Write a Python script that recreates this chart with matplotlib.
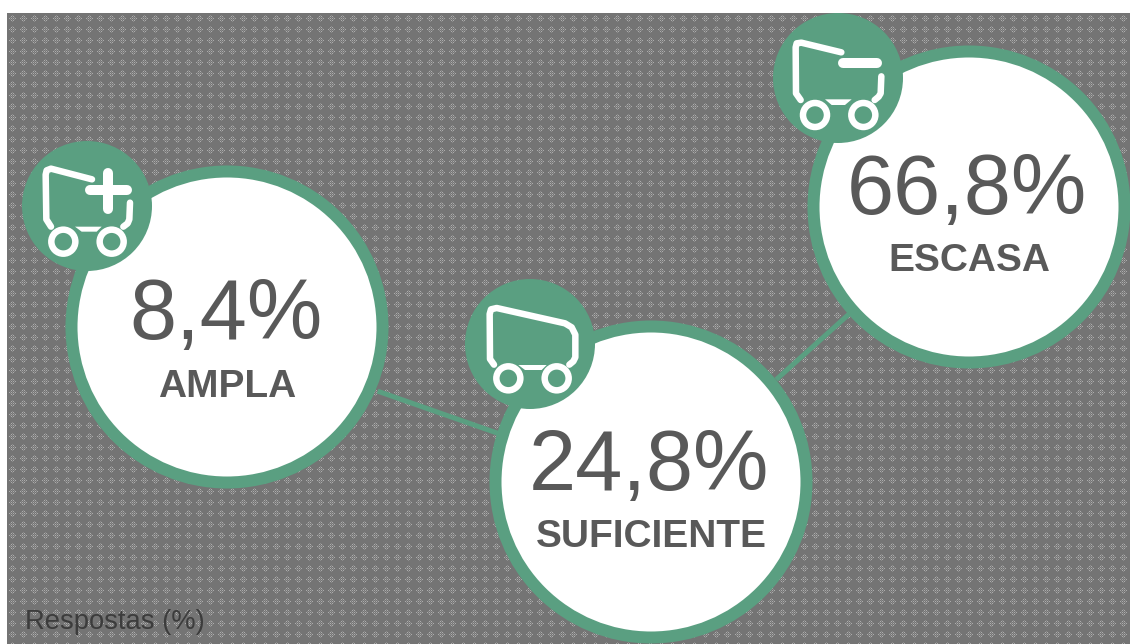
import numpy as np
import matplotlib
matplotlib.use('Agg')
import matplotlib.pyplot as plt
from matplotlib.patches import Circle, Polygon

# Data
categories = ['AMPLA', 'SUFICIENTE', 'ESCASA']
shares = [8.4, 24.8, 66.8]
footnote = 'Respostas (%)'

# Layout, in picture pixels
big_x = [227, 651, 969]
big_y = [327, 482, 207]
badge_x = [87, 530, 838]
badge_y = [206, 344, 78]
pct_x = [226, 649, 967]
pct_y = [317, 468, 192]
name_x = [227, 651, 969]
name_y = [387, 537, 261]

GREEN = '#5A9F81'
TEXT = '#595959'

plt.rcParams['font.family'] = ['Liberation Sans', 'DejaVu Sans']


def px(v):
    # pixels to points at dpi 100
    return v * 0.72


fig = plt.figure(figsize=(11.3, 6.44), dpi=100, facecolor='white')
ax = fig.add_axes([0, 0, 1, 1])
ax.axis('off')

# Dithered grey background
tile = np.full((11, 11), 116)
for r, c in [(3, 4), (3, 6), (5, 2), (5, 4), (5, 6), (5, 8), (7, 4), (7, 6)]:
    tile[r, c] = 172
for r, c in [(4, 3), (4, 5), (4, 7), (6, 3), (6, 5), (6, 7), (2, 5), (8, 5)]:
    tile[r, c] = 140
bg = np.tile(tile, (58, 103))[:631, :1123]
ax.imshow(bg, cmap='gray', vmin=0, vmax=255, extent=(7, 1130, 644, 13),
          interpolation='nearest', aspect='auto', zorder=0)
ax.set_xlim(0, 1130)
ax.set_ylim(644, 0)

# Connectors
ax.plot([380, 497], [392, 433], color=GREEN, lw=px(5), zorder=1)
ax.plot([778, 848], [378, 315], color=GREEN, lw=px(5), zorder=1)

# Big circles and badges
for x, y in zip(big_x, big_y):
    ax.add_patch(Circle((x, y), 155.5, fc='white', ec=GREEN, lw=px(12), zorder=2))
for x, y in zip(badge_x, badge_y):
    ax.add_patch(Circle((x, y), 65, fc=GREEN, ec='none', zorder=3))


def cart_line(cx, cy, zx, zy, lw=6.5):
    # points read from the 3x zoom, relative to badge centre
    xs = [cx + v / 3 for v in zx]
    ys = [cy + v / 3 for v in zy]
    ax.plot(xs, ys, color='white', lw=px(lw), solid_capstyle='round',
            solid_joinstyle='round', zorder=4)


def axle(cx, cy, zx, zy):
    pts = [(cx + a / 3, cy + b / 3) for a, b in zip(zx, zy)]
    ax.add_patch(Polygon(pts, closed=True, fc='white', ec='none', zorder=4))


def wheels(cx, cy, zx, zy):
    for v in zx:
        ax.add_patch(Circle((cx + v / 3, cy + zy / 3), 12, fc='none', ec='white',
                            lw=px(6.5), zorder=4))


# Ampla cart with plus
cx, cy = badge_x[0], badge_y[0]
cart_line(cx, cy, [-108, -122, -124, -121, -108, 15], [62, 40, -94, -107, -112, -80])
cart_line(cx, cy, [129, 127, 122, 109], [-10, 40, 52, 62])
axle(cx, cy, [-36, 44, 29, -16], [62, 62, 77, 77])
cart_line(cx, cy, [8, 120], [-48, -48], lw=10)
cart_line(cx, cy, [64, 64], [-100, 10], lw=10)
wheels(cx, cy, [-71, 74], 107)

# Suficiente cart
cx, cy = badge_x[1], badge_y[1]
cart_line(cx, cy, [-108, -120, -121, -117, -100, 105, 125, 136, 136, 130, 118],
          [62, 45, -90, -104, -108, -62, -50, -28, 40, 52, 62])
axle(cx, cy, [-35, 50, 35, -15], [63, 63, 78, 78])
wheels(cx, cy, [-65, 80], 103)

# Escasa cart with minus
cx, cy = badge_x[2], badge_y[2]
cart_line(cx, cy, [-112, -126, -127, -124, -110, 10], [66, 46, -92, -104, -106, -77])
cart_line(cx, cy, [130, 128, 122, 110], [-5, 46, 56, 66])
axle(cx, cy, [-39, 41, 21, -19], [64, 64, 81, 81])
cart_line(cx, cy, [15, 117], [-46, -46], lw=10)
wheels(cx, cy, [-69, 76], 111)

# Text
for i in range(3):
    label = f'{shares[i]:.1f}%'.replace('.', ',')
    ax.text(pct_x[i], pct_y[i], label, fontsize=61, color=TEXT, ha='center',
            va='center', zorder=5)
    ax.text(name_x[i], name_y[i], categories[i], fontsize=28, color=TEXT,
            fontweight='bold', ha='center', va='center', zorder=5)

ax.text(25, 622, footnote, fontsize=19.7, color='#3C3C3C', ha='left', va='center', zorder=5)

fig.savefig('out.png', dpi=100)
